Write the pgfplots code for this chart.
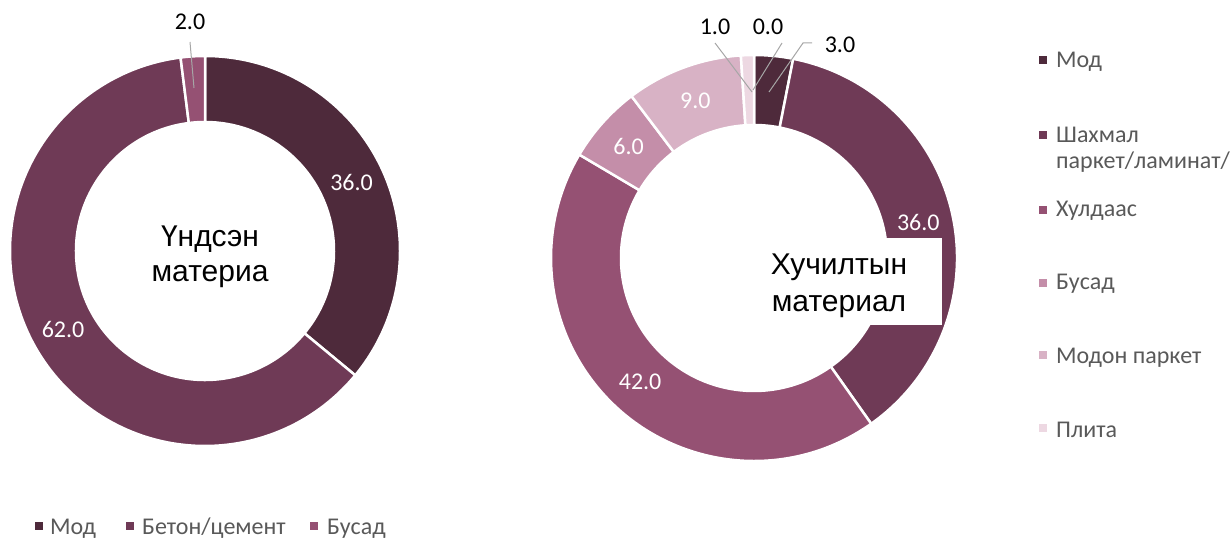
\documentclass[border=0pt]{standalone}
\usepackage{pgfplots}
\usepackage{pgfplotstable}
\pgfplotsset{compat=1.18}
\usetikzlibrary{calc}
\usepackage{fontspec}
\setmainfont{Carlito}
\newfontfamily\arialfont{Liberation Sans}
\definecolor{cA}{HTML}{4E2A3B}
\definecolor{cB}{HTML}{6F3A56}
\definecolor{cC}{HTML}{955173}
\definecolor{cD}{HTML}{C48EA9}
\definecolor{cE}{HTML}{D8B2C5}
\definecolor{cF}{HTML}{EDD8E2}
\definecolor{legtext}{HTML}{595959}
\definecolor{leader}{HTML}{A6A6A6}
\newcommand\lblfont{\fontsize{24}{28}\selectfont}
\newcommand\legfont{\fontsize{24}{27}\selectfont}

% Left donut: Yndsen material
\pgfplotstableread{
value col
36 cA
62 cB
2 cC
}\leftdata
% Right donut: Khuchiltyn material
\pgfplotstableread{
value col
3 cA
36 cB
42 cC
6 cD
9 cE
1 cF
0 cF
}\rightdata

\newcommand{\drawdonut}[5]{%
  \pgfplotstablegetrowsof{#1}%
  \pgfmathtruncatemacro{\dlast}{\pgfplotsretval-1}%
  \def\dtotal{0}%
  \pgfplotsforeachungrouped \di in {0,...,\dlast}{%
    \pgfplotstablegetelem{\di}{value}\of#1%
    \pgfmathsetmacro{\dtotal}{\dtotal+\pgfplotsretval}%
  }%
  \pgfmathsetmacro{\rmid}{(#4+#5)/2}%
  \def\dcum{0}%
  \pgfplotsforeachungrouped \di in {0,...,\dlast}{%
    \pgfplotstablegetelem{\di}{value}\of#1\let\dval\pgfplotsretval
    \pgfplotstablegetelem{\di}{col}\of#1\let\dcol\pgfplotsretval
    \pgfmathsetmacro{\aone}{90-\dcum/\dtotal*360}%
    \pgfmathsetmacro{\dcum}{\dcum+\dval}%
    \pgfmathsetmacro{\atwo}{90-\dcum/\dtotal*360}%
    \pgfmathsetmacro{\amid}{(\aone+\atwo)/2}%
    \pgfmathtruncatemacro{\dshow}{\dval>=5}%
    \pgfmathtruncatemacro{\dpos}{\dval>0}%
    \ifnum\dpos=1 %
      \edef\dcmd{\noexpand\filldraw[fill=\dcol,draw=white,line width=2.5pt]%
        ($(axis cs:#2,#3)+(\aone:#4pt)$) arc[start angle=\aone,end angle=\atwo,radius=#4pt]%
        -- ($(axis cs:#2,#3)+(\atwo:#5pt)$) arc[start angle=\atwo,end angle=\aone,radius=#5pt] -- cycle;}%
      \dcmd%
    \fi%
    \ifnum\dshow=1 %
      \edef\dcmd{\noexpand\node[text=white,font=\noexpand\lblfont] at ($(axis cs:#2,#3)+(\amid:\rmid pt)$) {\noexpand\pgfmathprintnumber[fixed,fixed zerofill,precision=1,assume math mode=true]{\dval}};}%
      \dcmd%
    \fi%
  }%
}

\begin{document}
\begin{tikzpicture}
\begin{axis}[
  width=1230pt, height=541pt, scale only axis,
  xmin=0, xmax=1230, ymin=0, ymax=541,
  hide axis, clip=false
]
\coordinate (bl) at (axis cs:0,0);
\coordinate (tr) at (axis cs:1230,541);

% donuts
\drawdonut{\leftdata}{205}{290}{195}{129}
\drawdonut{\rightdata}{754}{283}{203}{133}

% left centre text
\node[font=\arialfont\fontsize{30}{35}\selectfont, align=center, anchor=base, inner sep=0pt] at (axis cs:210,259) {Үндсэн\\материа};

% right centre text box
\fill[white] (axis cs:758,303) rectangle (axis cs:942,216);
\node[font=\arialfont\fontsize{30}{37}\selectfont, align=center, anchor=base, inner sep=0pt] at (axis cs:839,229) {Хучилтын\\материал};

% outside labels with leader lines
\draw[leader, line width=1pt] (axis cs:190,499) -- (axis cs:194,453);
\node[font=\lblfont] at (axis cs:190,519) {2.0};
\draw[leader, line width=1pt] (axis cs:715,498) -- (axis cs:752,449);
\node[font=\lblfont] at (axis cs:715,514) {1.0};
\draw[leader, line width=1pt] (axis cs:782,498) -- (axis cs:753,451);
\node[font=\lblfont] at (axis cs:768,514) {0.0};
\draw[leader, line width=1pt] (axis cs:812,498) -- (axis cs:803,498) -- (axis cs:769,449);
\node[font=\lblfont] at (axis cs:840,496) {3.0};

% bottom legend
\fill[cA] (axis cs:35,11) rectangle (axis cs:43,19);
\node[font=\legfont, text=legtext, anchor=base west, inner sep=0pt] at (axis cs:50,7) {Мод};
\fill[cB] (axis cs:126,11) rectangle (axis cs:134,19);
\node[font=\legfont, text=legtext, anchor=base west, inner sep=0pt] at (axis cs:142,7) {Бетон/цемент};
\fill[cC] (axis cs:310,11) rectangle (axis cs:318,19);
\node[font=\legfont, text=legtext, anchor=base west, inner sep=0pt] at (axis cs:327,7) {Бусад};

% right legend
\fill[cA] (axis cs:1039,477) rectangle (axis cs:1047,485);
\node[font=\legfont, text=legtext, anchor=base west, inner sep=0pt] at (axis cs:1056,473) {Мод};
\fill[cB] (axis cs:1039,402) rectangle (axis cs:1047,410);
\node[font=\legfont, text=legtext, anchor=base west, inner sep=0pt] at (axis cs:1056,398) {Шахмал};
\node[font=\legfont, text=legtext, anchor=base west, inner sep=0pt] at (axis cs:1056,372) {паркет/ламинат/};
\fill[cC] (axis cs:1039,327) rectangle (axis cs:1047,335);
\node[font=\legfont, text=legtext, anchor=base west, inner sep=0pt] at (axis cs:1056,324) {Хулдаас};
\fill[cD] (axis cs:1039,254) rectangle (axis cs:1047,262);
\node[font=\legfont, text=legtext, anchor=base west, inner sep=0pt] at (axis cs:1056,251) {Бусад};
\fill[cE] (axis cs:1039,182) rectangle (axis cs:1047,190);
\node[font=\legfont, text=legtext, anchor=base west, inner sep=0pt] at (axis cs:1056,178) {Модон паркет};
\fill[cF] (axis cs:1039,109) rectangle (axis cs:1047,117);
\node[font=\legfont, text=legtext, anchor=base west, inner sep=0pt] at (axis cs:1056,104) {Плита};
\end{axis}
\pgfresetboundingbox
\useasboundingbox (bl) rectangle (tr);
\end{tikzpicture}
\end{document}
